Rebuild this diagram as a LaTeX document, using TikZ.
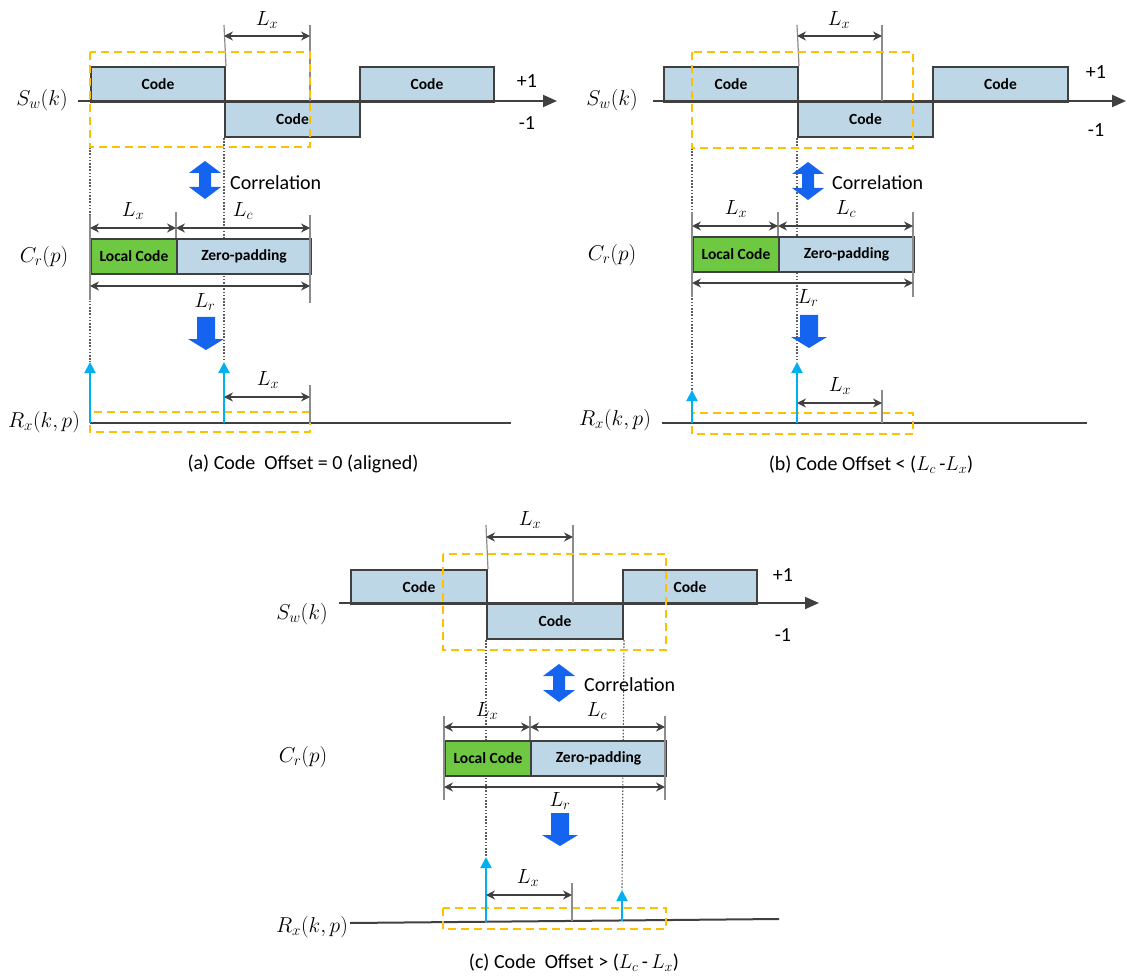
\RequirePackage{fix-cm}
\documentclass[tikz,border=0pt]{standalone}
\usepackage{fontspec}
\setmainfont{Carlito}
\usetikzlibrary{arrows.meta}
\pgfdeclarelayer{bg}
\pgfsetlayers{bg,main}
\definecolor{codefill}{RGB}{190,215,230}
\definecolor{localgreen}{RGB}{110,200,65}
\definecolor{gold}{RGB}{255,192,0}
\definecolor{dark}{RGB}{64,64,64}
\definecolor{tickgray}{RGB}{140,140,140}
\definecolor{bluearr}{RGB}{20,100,240}
\definecolor{cyanarr}{RGB}{0,176,240}
\tikzset{
  codebox/.style={draw=dark, line width=2pt, fill=codefill, inner sep=0pt, anchor=north west,
    font=\bfseries\fontsize{15.5}{18}\selectfont},
  axisarrow/.style={draw=dark, line width=2pt, -{Triangle[length=14pt,width=12pt]}},
  rxline/.style={draw=dark, line width=2pt},
  dimarrow/.style={draw=dark, line width=1.3pt, {Stealth[length=9pt,width=9pt]}-{Stealth[length=9pt,width=9pt]}},
  tickline/.style={draw=tickgray, line width=1.2pt},
  guideline/.style={draw=dark!85, line width=1.1pt, dash pattern=on 1.6pt off 1.6pt},
  goldframe/.style={draw=gold, line width=2pt, dash pattern=on 8pt off 5pt},
  spikearrow/.style={draw=cyanarr, line width=2pt, -{Triangle[length=11pt,width=11pt]}},
  mathlab/.style={font=\fontsize{21.5}{25}\selectfont, inner sep=0pt},
  dimlab/.style={font=\fontsize{20.5}{24}\selectfont, inner sep=0pt},
  txtlab/.style={font=\fontsize{20}{24}\selectfont, inner sep=0pt},
  corrarrow/.pic={\fill[bluearr] (0,0) -- (16,12) -- (6,12) -- (6,26) -- (16,26) -- (0,38)
      -- (-16,26) -- (-6,26) -- (-6,12) -- (-16,12) -- cycle;},
  downarrow/.pic={\fill[bluearr] (-9,0) -- (9,0) -- (9,22) -- (18,22) -- (0,33) -- (-18,22) -- (-9,22) -- cycle;}
}
\begin{document}
\begin{tikzpicture}[x=1pt,y=-1pt]
\useasboundingbox (0,0) rectangle (1127,976);

% ================= Panel (a) =================
\node[mathlab] (swa) at (42,100) {$S_w(k)$};
\node[codebox, minimum width=134pt, minimum height=35pt] (ca1) at (90,66) {Code};
\node[codebox, minimum width=135pt, minimum height=35pt] (ca2) at (224,101) {Code};
\node[codebox, minimum width=134pt, minimum height=35pt] (ca3) at (359,66) {Code};
\coordinate (axa0) at (78,101); \coordinate (axa1) at (557,101);
\draw[axisarrow] (axa0) -- (axa1);
\node[txtlab] (pa) at (527,81) {+1};
\node[txtlab] (ma) at (527,123) {-1};
\coordinate (ta1) at (224,25); \coordinate (ta2) at (310,25); \coordinate (ta2b) at (310,101);
\draw[tickline] (ta1) -- (ca1.north east);
\draw[tickline] (ta2) -- (ta2b);
\coordinate (da1) at (224,36); \coordinate (da2) at (310,36);
\draw[dimarrow] (da1) -- (da2);
\node[dimlab] (lxa1) at (267,20) {$L_x$};
\draw[goldframe] (90,52) rectangle (310,147);

\pic at (205,161) {corrarrow};
\node[txtlab, anchor=west] (corra) at (230,183) {Correlation};

\node[mathlab] (cra) at (44,257) {$C_r(p)$};
\node[codebox, fill=localgreen, minimum width=86pt, minimum height=35pt] (lca) at (90,238) {Local Code};
\node[codebox, minimum width=134pt, minimum height=35pt] (zpa) at (176,238) {Zero-padding};
\coordinate (tb1) at (90,215); \coordinate (tb1b) at (90,300);
\coordinate (tb2) at (176,212);
\coordinate (tb3) at (310,215); \coordinate (tb3b) at (310,303);
\draw[tickline] (tb1) -- (tb1b);
\draw[tickline] (tb2) -- (zpa.north west);
\draw[tickline] (tb3) -- (tb3b);
\coordinate (db1) at (90,228); \coordinate (db2) at (176,228); \coordinate (db3) at (310,228);
\draw[dimarrow] (db1) -- (db2);
\draw[dimarrow] (db2) -- (db3);
\node[dimlab] (lxa2) at (133,211) {$L_x$};
\node[dimlab] (lca2) at (243,211) {$L_c$};
\coordinate (dr1) at (90,286); \coordinate (dr2) at (310,286);
\draw[dimarrow] (dr1) -- (dr2);
\node[dimlab] (lra) at (205,302) {$L_r$};

\pic at (206,317) {downarrow};

\coordinate (ga1) at (90,147); \coordinate (ga1e) at (90,362);
\coordinate (ga2e) at (224,362);
\begin{pgfonlayer}{bg}
\draw[guideline] (ga1) -- (ga1e);
\draw[guideline] (ca2.south west) -- (ga2e);
\end{pgfonlayer}

\coordinate (ra0) at (90,423); \coordinate (ra1) at (511,423);
\draw[rxline] (ra0) -- (ra1);
\draw[goldframe] (90,412) rectangle (310,432);
\coordinate (sa1) at (90,423); \coordinate (sa2) at (224,423);
\draw[spikearrow] (sa1) -- (ga1e);
\draw[spikearrow] (sa2) -- (ga2e);
\coordinate (tc1) at (310,385); \coordinate (tc1b) at (310,423);
\draw[tickline] (tc1) -- (tc1b);
\coordinate (dc1) at (224,397); \coordinate (dc2) at (310,397);
\draw[dimarrow] (dc1) -- (dc2);
\node[dimlab] (lxa3) at (268,380) {$L_x$};
\node[mathlab] (rxa) at (44,422) {$R_x(k,p)$};
\node[txtlab] (capa) at (303,464) {(a) Code\ \ Offset = 0 (aligned)};

% ================= Panel (b) =================
\node[mathlab] (swb) at (612,100) {$S_w(k)$};
\node[codebox, minimum width=134pt, minimum height=35pt] (cb1) at (663,66) {Code};
\node[codebox, minimum width=135pt, minimum height=35pt] (cb2) at (797,101) {Code};
\node[codebox, minimum width=135pt, minimum height=35pt] (cb3) at (932,66) {Code};
\coordinate (axb0) at (653,101); \coordinate (axb1) at (1126,101);
\draw[axisarrow] (axb0) -- (axb1);
\node[txtlab] (pb) at (1096,72) {+1};
\node[txtlab] (mb) at (1096,130) {-1};
\coordinate (tbb1) at (797,25); \coordinate (tbb2) at (882,25); \coordinate (tbb2b) at (882,101);
\draw[tickline] (tbb1) -- (cb1.north east);
\draw[tickline] (tbb2) -- (tbb2b);
\coordinate (dbb1) at (797,36); \coordinate (dbb2) at (882,36);
\draw[dimarrow] (dbb1) -- (dbb2);
\node[dimlab] (lxb1) at (839,20) {$L_x$};
\draw[goldframe] (692,52) rectangle (913,148);

\pic at (808,162) {corrarrow};
\node[txtlab, anchor=west] (corrb) at (832,183) {Correlation};

\node[mathlab] (crb) at (612,255) {$C_r(p)$};
\node[codebox, fill=localgreen, minimum width=86pt, minimum height=35pt] (lcb) at (692,236) {Local Code};
\node[codebox, minimum width=135pt, minimum height=35pt] (zpb) at (778,236) {Zero-padding};
\coordinate (tbm1) at (692,212); \coordinate (tbm1b) at (692,297);
\coordinate (tbm2) at (778,212);
\coordinate (tbm3) at (913,212); \coordinate (tbm3b) at (913,297);
\draw[tickline] (tbm1) -- (tbm1b);
\draw[tickline] (tbm2) -- (zpb.north west);
\draw[tickline] (tbm3) -- (tbm3b);
\coordinate (dbm1) at (692,226); \coordinate (dbm2) at (778,226); \coordinate (dbm3) at (913,226);
\draw[dimarrow] (dbm1) -- (dbm2);
\draw[dimarrow] (dbm2) -- (dbm3);
\node[dimlab] (lxb2) at (736,209) {$L_x$};
\node[dimlab] (lcb2) at (846,209) {$L_c$};
\coordinate (drb1) at (692,283); \coordinate (drb2) at (913,283);
\draw[dimarrow] (drb1) -- (drb2);
\node[dimlab] (lrb) at (808,298) {$L_r$};

\pic at (809,315) {downarrow};

\coordinate (gb1) at (692,148); \coordinate (gb1e) at (692,390);
\coordinate (gb2e) at (797,362);
\begin{pgfonlayer}{bg}
\draw[guideline] (gb1) -- (gb1e);
\draw[guideline] (cb2.south west) -- (gb2e);
\end{pgfonlayer}

\coordinate (rb0) at (662,423); \coordinate (rb1) at (1087,423);
\draw[rxline] (rb0) -- (rb1);
\draw[goldframe] (692,413) rectangle (913,434);
\coordinate (sb1) at (692,423); \coordinate (sb2) at (797,423);
\draw[spikearrow] (sb1) -- (gb1e);
\draw[spikearrow] (sb2) -- (gb2e);
\coordinate (tbc1) at (882,390); \coordinate (tbc1b) at (882,423);
\draw[tickline] (tbc1) -- (tbc1b);
\coordinate (dbc1) at (797,403); \coordinate (dbc2) at (882,403);
\draw[dimarrow] (dbc1) -- (dbc2);
\node[dimlab] (lxb3) at (840,386) {$L_x$};
\node[mathlab] (rxb) at (615,420) {$R_x(k,p)$};
\node[txtlab] (capb) at (871,465) {(b) Code Offset < ($L_c$\,-$L_x$)};

% ================= Panel (c) =================
\node[mathlab] (swc) at (302,614) {$S_w(k)$};
\node[codebox, minimum width=136pt, minimum height=34pt] (cc1) at (350,569) {Code};
\node[codebox, minimum width=136pt, minimum height=35pt] (cc2) at (486,603) {Code};
\node[codebox, minimum width=134pt, minimum height=34pt] (cc3) at (622,569) {Code};
\coordinate (axc0) at (339,603); \coordinate (axc1) at (819,603);
\draw[axisarrow] (axc0) -- (axc1);
\node[txtlab] (pc) at (783,575) {+1};
\node[txtlab] (mc) at (783,635) {-1};
\coordinate (tcc1) at (486,525); \coordinate (tcc2) at (573,525); \coordinate (tcc2b) at (573,603);
\draw[tickline] (tcc1) -- (cc1.north east);
\draw[tickline] (tcc2) -- (tcc2b);
\coordinate (dcc1) at (486,537); \coordinate (dcc2) at (573,537);
\draw[dimarrow] (dcc1) -- (dcc2);
\node[dimlab] (lxc1) at (530,520) {$L_x$};
\draw[goldframe] (443,554) rectangle (666,650);

\pic at (559,664) {corrarrow};
\node[txtlab, anchor=west] (corrc) at (584,685) {Correlation};

\node[mathlab] (crc) at (303,757) {$C_r(p)$};
\node[codebox, fill=localgreen, minimum width=86pt, minimum height=35pt] (lcc) at (444,740) {Local Code};
\node[codebox, minimum width=135pt, minimum height=35pt] (zpc) at (530,740) {Zero-padding};
\coordinate (tcm1) at (444,716); \coordinate (tcm1b) at (444,800);
\coordinate (tcm2) at (530,716);
\coordinate (tcm3) at (665,716); \coordinate (tcm3b) at (665,800);
\draw[tickline] (tcm1) -- (tcm1b);
\draw[tickline] (tcm2) -- (zpc.north west);
\draw[tickline] (tcm3) -- (tcm3b);
\coordinate (dcm1) at (444,727); \coordinate (dcm2) at (530,727); \coordinate (dcm3) at (665,727);
\draw[dimarrow] (dcm1) -- (dcm2);
\draw[dimarrow] (dcm2) -- (dcm3);
\node[dimlab] (lxc2) at (487,711) {$L_x$};
\node[dimlab] (lcc2) at (597,711) {$L_c$};
\coordinate (drc1) at (444,787); \coordinate (drc2) at (665,787);
\draw[dimarrow] (drc1) -- (drc2);
\node[dimlab] (lrc) at (560,801) {$L_r$};

\pic at (560,813) {downarrow};

\coordinate (gc1e) at (486,857);
\coordinate (gc2e) at (622,890);
\begin{pgfonlayer}{bg}
\draw[guideline] (cc2.south west) -- (gc1e);
\draw[guideline] (cc2.south east) -- (gc2e);
\end{pgfonlayer}

\coordinate (rc0) at (350,923); \coordinate (rc1) at (779,919);
\draw[rxline] (rc0) -- (rc1);
\draw[goldframe] (443,908) rectangle (666,929);
\coordinate (sc1) at (486,921.5); \coordinate (sc2) at (622,920.5);
\draw[spikearrow] (sc1) -- (gc1e);
\draw[spikearrow] (sc2) -- (gc2e);
\coordinate (tcd1) at (572,883); \coordinate (tcd1b) at (572,921);
\draw[tickline] (tcd1) -- (tcd1b);
\coordinate (dcd1) at (486,895); \coordinate (dcd2) at (572,895);
\draw[dimarrow] (dcd1) -- (dcd2);
\node[dimlab] (lxc3) at (528,878) {$L_x$};
\node[mathlab] (rxc) at (312,927) {$R_x(k,p)$};
\node[txtlab] (capc) at (574,963) {(c) Code\ \ Offset > ($L_c$\,-\,$L_x$)};
\end{tikzpicture}
\end{document}
